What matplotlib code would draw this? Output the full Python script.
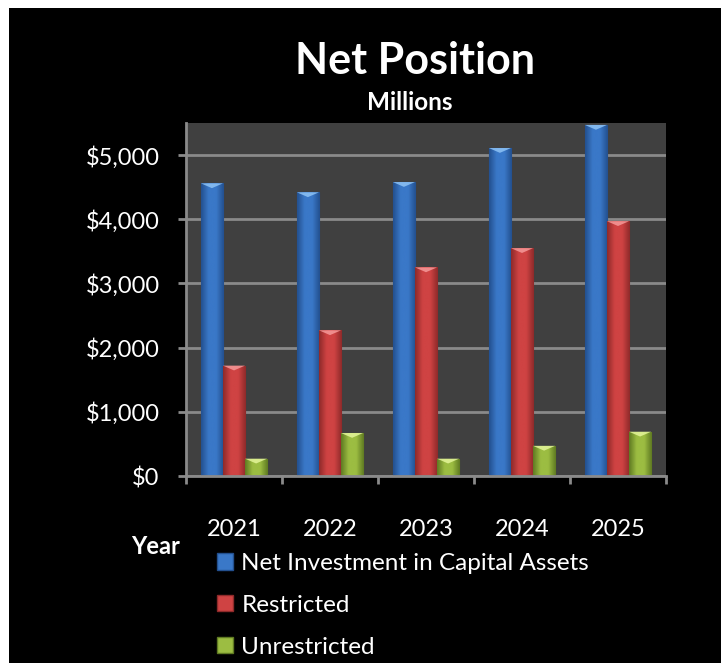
import numpy as np
import matplotlib
matplotlib.use("Agg")
import matplotlib.pyplot as plt
from matplotlib.patches import Rectangle, Polygon
from matplotlib.ticker import FuncFormatter, FixedLocator
from matplotlib.colors import LinearSegmentedColormap

plt.rcParams['font.family'] = ['Lato', 'DejaVu Sans']

years = ['2021', '2022', '2023', '2024', '2025']
series_names = ['Net Investment in Capital Assets', 'Restricted', 'Unrestricted']
net_investment = [4560, 4420, 4580, 5110, 5470]
restricted = [1720, 2270, 3250, 3550, 3970]
unrestricted = [270, 670, 270, 470, 690]

# (dark edge, body, light top) per series
palette = [
    ('#23508f', '#3a78c8', '#8ec3f5'),
    ('#8e2a2a', '#cf4343', '#f59a9a'),
    ('#5f7a22', '#9cbd42', '#e4f59a'),
]

W, H = 721, 663
fig = plt.figure(figsize=(W / 100, H / 100), dpi=100, facecolor='white')
fig.patches.append(Rectangle((9 / W, 0), 1, 1 - 8 / H, transform=fig.transFigure,
                             facecolor='black', edgecolor='none', zorder=-10))

ax = fig.add_axes([186 / W, (H - 476) / H, 480 / W, 353 / H])
ax.set_facecolor('#404040')

x = np.arange(len(years))
bw = 0.23
all_vals = [net_investment, restricted, unrestricted]

bevel = 75  # height of the light top facet, in data units
for i, (vals, (dark, body, light)) in enumerate(zip(all_vals, palette)):
    cmap = LinearSegmentedColormap.from_list('b', [dark, body, body, dark])
    grad = np.linspace(0, 1, 64).reshape(1, -1)
    bars = ax.bar(x + (i - 1) * bw, vals, width=bw, color=body, edgecolor=dark,
                  linewidth=0.8, zorder=3, label=series_names[i])
    for b, v in zip(bars, vals):
        x0 = b.get_x()
        x1 = x0 + b.get_width()
        im = ax.imshow(grad, cmap=cmap, extent=(x0, x1, 0, v), aspect='auto',
                       zorder=3.1, interpolation='bicubic')
        im.set_clip_path(b)
        ax.add_patch(Polygon([(x0, v), (x1, v), ((x0 + x1) / 2, v - bevel)],
                             closed=True, facecolor=light, edgecolor='none',
                             alpha=0.85, zorder=3.2))
ax.set_xlim(-0.5, len(years) - 0.5)
ax.set_ylim(0, 5500)

ax.yaxis.set_major_locator(FixedLocator([0, 1000, 2000, 3000, 4000, 5000]))
ax.yaxis.set_major_formatter(FuncFormatter(lambda v, p: f'${v:,.0f}'))
ax.grid(axis='y', color='#8a8a8a', linewidth=2, zorder=1)
ax.set_axisbelow(True)

ax.set_xticks(x)
ax.set_xticklabels(years)
ax.set_xticks(np.arange(-0.5, len(years)), minor=True)
ax.tick_params(axis='x', which='major', length=0, pad=31, labelsize=17, labelcolor='white')
ax.tick_params(axis='x', which='minor', length=6, width=2, color='#8a8a8a', direction='out')
ax.tick_params(axis='y', which='major', length=6, width=2, color='#8a8a8a',
               labelsize=17, labelcolor='white', pad=13)

for s in ['top', 'right']:
    ax.spines[s].set_visible(False)
for s in ['left', 'bottom']:
    ax.spines[s].set_color('#8a8a8a')
    ax.spines[s].set_linewidth(2)
    ax.spines[s].set_zorder(4)

fig.text(415 / W, 1 - 61 / H, 'Net Position', ha='center', va='center',
         fontsize=31, fontweight='bold', color='white')
fig.text(410 / W, 1 - 102 / H, 'Millions', ha='center', va='center',
         fontsize=17.5, fontweight='bold', color='white')
fig.text(156 / W, 1 - 547 / H, 'Year', ha='center', va='center',
         fontsize=17, fontweight='bold', color='white')

handles = [Rectangle((0, 0), 1, 1, facecolor=p[1], edgecolor=p[0]) for p in palette]
fig.legend(handles, series_names, loc='upper left',
           bbox_to_anchor=(217 / W, 1 - 553 / H), frameon=False, fontsize=17.5,
           labelcolor='white', handlelength=0.65, handleheight=0.65,
           handletextpad=0.35, labelspacing=0.86, borderpad=0, borderaxespad=0)

fig.savefig('out.png', dpi=100, facecolor='white')
